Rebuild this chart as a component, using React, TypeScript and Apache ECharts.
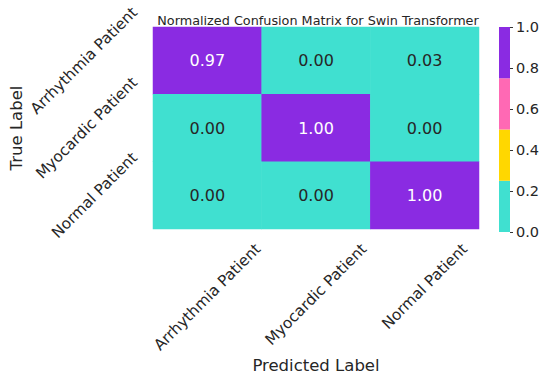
import React, { useEffect, useRef } from "react";
import * as echarts from "echarts";

const classLabels = ["Arrhythmia Patient", "Myocardic Patient", "Normal Patient"];
// rows = true label, columns = predicted label
const matrixRows = [
  [0.97, 0.0, 0.03],
  [0.0, 1.0, 0.0],
  [0.0, 0.0, 1.0],
];
const colorbarBounds = [0, 0.25, 0.5, 0.75, 1.0];
const colorbarColors = ["#40E0D0", "#FFD700", "#FF69B4", "#8A2BE2"];

const FONT = "DejaVu Sans";
const TXT = "#262626";

export default function App() {
  const ref = useRef<HTMLDivElement>(null);
  useEffect(() => {
    if (!ref.current) return;
    const chart = echarts.init(ref.current, undefined, { renderer: "svg" });

    const data: any[] = [];
    matrixRows.forEach((row, r) =>
      row.forEach((v, c) => {
        data.push({
          value: [c, r, v],
          label: { color: v > 0.5 ? "#ffffff" : TXT },
        });
      })
    );

    const pieces = colorbarColors.map((color, i) => ({
      gte: colorbarBounds[i],
      lt: i === colorbarColors.length - 1 ? 1.0001 : colorbarBounds[i + 1],
      color,
    }));

    const cbSeries = colorbarColors.map((color, i) => ({
      type: "bar",
      xAxisIndex: 1,
      yAxisIndex: 1,
      stack: "cb",
      barWidth: "100%",
      data: [colorbarBounds[i + 1] - colorbarBounds[i]],
      itemStyle: { color },
      silent: true,
    }));

    chart.setOption({
      animation: false,
      title: {
        text: "Normalized Confusion Matrix for Swin Transformer",
        left: 313,
        textAlign: "center",
        top: 9,
        textStyle: { fontFamily: FONT, fontSize: 12.8, fontWeight: "normal", color: TXT },
      },
      grid: [
        { left: 149, top: 27, width: 330, height: 205 },
        { left: 499, top: 27, width: 11, height: 205 },
      ],
      xAxis: [
        {
          type: "category",
          gridIndex: 0,
          data: classLabels,
          axisLine: { show: false },
          axisTick: { show: false },
          axisLabel: { show: false },
          splitLine: { show: false },
          name: "Predicted Label",
          nameLocation: "middle",
          nameGap: 128,
          nameTextStyle: { fontFamily: FONT, fontSize: 16.5, color: TXT },
        },
        {
          type: "category",
          gridIndex: 1,
          data: ["cb"],
          show: false,
        },
      ],
      yAxis: [
        {
          type: "category",
          gridIndex: 0,
          inverse: true,
          data: classLabels,
          axisLine: { show: false },
          axisTick: { show: false },
          axisLabel: { show: false },
          splitLine: { show: false },
          name: "True Label",
          nameLocation: "middle",
          nameGap: 128,
          nameRotate: 90,
          nameTextStyle: { fontFamily: FONT, fontSize: 16.5, color: TXT },
        },
        {
          type: "value",
          gridIndex: 1,
          position: "right",
          min: 0,
          max: 1,
          interval: 0.2,
          axisLine: { show: false },
          axisTick: { show: true, length: 3, lineStyle: { color: "#333" } },
          axisLabel: {
            margin: 6,
            fontFamily: FONT,
            fontSize: 14.5,
            color: TXT,
            formatter: (v: number) => v.toFixed(1),
          },
          splitLine: { show: false },
        },
      ],
      visualMap: {
        type: "piecewise",
        show: false,
        seriesIndex: 0,
        dimension: 2,
        pieces,
      },
      series: [
        {
          type: "heatmap",
          xAxisIndex: 0,
          yAxisIndex: 0,
          data,
          itemStyle: { borderWidth: 0 },
          label: {
            show: true,
            fontFamily: FONT,
            fontSize: 16,
            formatter: (p: any) => Number(p.value[2]).toFixed(2),
          },
          emphasis: { disabled: true },
          silent: true,
        },
        ...cbSeries,
      ],
    });

    // tick labels rotated 45°, centered like matplotlib
    const fs = 15.3;
    const canvas = document.createElement("canvas");
    const ctx = canvas.getContext("2d")!;
    ctx.font = `${fs}px "${FONT}"`;
    const H = fs * 1.17;
    const c45 = Math.SQRT1_2;
    const gridBottom = 27 + 205;
    const gridLeft = 149;
    const pad = 8;
    const graphics: any[] = [];
    classLabels.forEach((lab, i) => {
      const L = ctx.measureText(lab).width;
      const bb = (L + H) * c45;
      const px = chart.convertToPixel({ xAxisIndex: 0 }, i) as number;
      graphics.push({
        type: "text",
        x: px,
        y: gridBottom + pad + bb / 2,
        rotation: Math.PI / 4,
        style: {
          text: lab,
          fontFamily: FONT,
          fontSize: fs,
          fill: TXT,
          align: "center",
          verticalAlign: "middle",
        },
        silent: true,
      });
      const py = chart.convertToPixel({ yAxisIndex: 0 }, i) as number;
      graphics.push({
        type: "text",
        x: gridLeft - pad - bb / 2,
        y: py,
        rotation: Math.PI / 4,
        style: {
          text: lab,
          fontFamily: FONT,
          fontSize: fs,
          fill: TXT,
          align: "center",
          verticalAlign: "middle",
        },
        silent: true,
      });
    });
    chart.setOption({ graphic: graphics });

    return () => chart.dispose();
  }, []);
  return (
    <div
      ref={ref}
      style={{ position: "absolute", left: 0, top: 0, width: 550, height: 379, background: "#fff" }}
    />
  );
}
